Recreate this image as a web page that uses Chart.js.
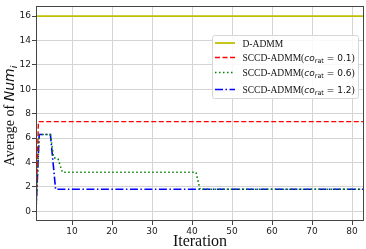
<!DOCTYPE html>
<html>
<head>
<meta charset="utf-8">
<script src="https://cdn.jsdelivr.net/npm/chart.js@4"></script>
<style>
  html, body { margin: 0; padding: 0; background: #fff; }
  #wrap { width: 366px; height: 249px; position: relative; }
</style>
</head>
<body>
<div id="wrap"><canvas id="myChart" width="366" height="249"></canvas></div>
<script>
// valores
const xTicks = [10, 20, 30, 40, 50, 60, 70, 80];
const yTicks = [0, 2, 4, 6, 8, 10, 12, 14, 16];

const dadmmX = [1, 83];
const dadmmY = [16, 16];
const co01X = [1, 1.6, 83];
const co01Y = [0, 7.35, 7.35];
const co06X = [1, 1.8, 4.6, 5.4, 6.5, 7.6, 41, 42, 83];
const co06Y = [0, 6.3, 6.3, 4.4, 4.3, 3.2, 3.2, 1.8, 1.8];
const co12X = [1, 1.8, 4.6, 5.9, 83];
const co12Y = [0, 6.3, 6.3, 1.8, 1.8];

const legendItems = [
  { label: 'D-ADMM', co: null, color: '#bfbf00', dash: [], width: 1.8 },
  { label: 'SCCD-ADMM(', co: '0.1', color: '#ff0000', dash: [5, 2.5], width: 1.4 },
  { label: 'SCCD-ADMM(', co: '0.6', color: '#008000', dash: [1.5, 2.5], width: 1.6 },
  { label: 'SCCD-ADMM(', co: '1.2', color: '#0000ff', dash: [8, 2.5, 1.5, 2.5], width: 1.6 }
];

function pts(xs, ys) {
  return xs.map((x, i) => ({ x: x, y: ys[i] }));
}

const serif = '"Liberation Serif", "Times New Roman", serif';
const sans = '"DejaVu Sans", sans-serif';

// moldura, legenda e titulos dos eixos
const extras = {
  id: 'extras',
  afterDraw(chart) {
    const ctx = chart.ctx;
    const a = chart.chartArea;
    ctx.save();
    ctx.strokeStyle = '#444';
    ctx.lineWidth = 1;
    ctx.strokeRect(Math.round(a.left) + 0.5, Math.round(a.top) + 0.5,
      Math.round(a.right - a.left) - 1, Math.round(a.bottom - a.top) - 1);

    // legenda
    const bx = 212.5, by = 35.5, bw = 146, bh = 63;
    ctx.fillStyle = 'rgba(255,255,255,0.85)';
    ctx.strokeStyle = '#d6d6d6';
    ctx.beginPath();
    ctx.roundRect(bx, by, bw, bh, 2);
    ctx.fill();
    ctx.stroke();
    const rows = [43, 57.5, 72.5, 89.5];
    legendItems.forEach((it, i) => {
      const y = rows[i];
      ctx.strokeStyle = it.color;
      ctx.lineWidth = it.width;
      ctx.setLineDash(it.dash);
      ctx.beginPath();
      ctx.moveTo(215, y);
      ctx.lineTo(235, y);
      ctx.stroke();
      ctx.setLineDash([]);
      ctx.fillStyle = '#111';
      ctx.textBaseline = 'alphabetic';
      ctx.textAlign = 'left';
      let x = 242.5;
      const base = y + 3.5;
      ctx.font = '9.5px ' + serif;
      ctx.fillText(it.label, x, base);
      x += ctx.measureText(it.label).width;
      if (it.co) {
        ctx.font = 'italic 9px ' + sans;
        ctx.fillText('co', x, base);
        x += ctx.measureText('co').width;
        ctx.font = '6.5px ' + sans;
        ctx.fillText('rat', x, base + 2);
        x += ctx.measureText('rat').width;
        ctx.font = '9px ' + sans;
        const s = ' = ' + it.co;
        ctx.fillText(s, x, base);
        x += ctx.measureText(s).width;
        ctx.font = '9.5px ' + serif;
        ctx.fillText(')', x, base);
      }
    });

    // titulo do eixo x
    ctx.fillStyle = '#111';
    ctx.font = '16px ' + serif;
    ctx.textAlign = 'center';
    ctx.fillText('Iteration', (a.left + a.right) / 2, 246);

    // titulo do eixo y
    ctx.translate(14, 116);
    ctx.rotate(-Math.PI / 2);
    ctx.textAlign = 'left';
    const p1 = 'Average of ';
    ctx.font = '14px ' + serif;
    const w1 = ctx.measureText(p1).width;
    ctx.font = 'italic 14px ' + sans;
    const w2 = ctx.measureText('Num').width;
    ctx.font = 'italic 9.5px ' + sans;
    const w3 = ctx.measureText('i').width;
    let x = -(w1 + w2 + w3) / 2;
    ctx.font = '14px ' + serif;
    ctx.fillText(p1, x, 0);
    x += w1;
    ctx.font = 'italic 14px ' + sans;
    ctx.fillText('Num', x, 0);
    x += w2;
    ctx.font = 'italic 9.5px ' + sans;
    ctx.fillText('i', x, 3);
    ctx.restore();
  }
};

const ctx = document.getElementById('myChart');

new Chart(ctx, {
  type: 'line',
  data: {
    datasets: [
      { label: 'D-ADMM', data: pts(dadmmX, dadmmY), borderColor: '#bfbf00', borderWidth: 1.8 },
      { label: 'SCCD-ADMM(co_rat = 0.1)', data: pts(co01X, co01Y), borderColor: '#ff0000', borderWidth: 1.4, borderDash: [5, 2.5] },
      { label: 'SCCD-ADMM(co_rat = 0.6)', data: pts(co06X, co06Y), borderColor: '#008000', borderWidth: 1.6, borderDash: [1.5, 2.5] },
      { label: 'SCCD-ADMM(co_rat = 1.2)', data: pts(co12X, co12Y), borderColor: '#0000ff', borderWidth: 1.6, borderDash: [8, 2.5, 1.5, 2.5] }
    ]
  },
  options: {
    responsive: false,
    animation: false,
    events: [],
    elements: {
      point: { radius: 0 },
      line: { tension: 0, fill: false }
    },
    layout: { padding: { top: 1, right: 2, left: 0, bottom: 0 } },
    plugins: {
      legend: { display: false },
      tooltip: { enabled: false }
    },
    scales: {
      x: {
        type: 'linear',
        min: 1,
        max: 83,
        afterBuildTicks: (s) => { s.ticks = xTicks.map(v => ({ value: v })); },
        afterFit: (s) => { s.height = 28; },
        grid: { color: '#d4d4d4', lineWidth: 1, tickLength: 4, tickColor: '#444' },
        border: { display: false },
        ticks: { color: '#222', font: { family: 'DejaVu Sans', size: 9 }, padding: 1, maxRotation: 0, autoSkip: false }
      },
      y: {
        type: 'linear',
        min: -0.8,
        max: 16.8,
        afterBuildTicks: (s) => { s.ticks = yTicks.map(v => ({ value: v })); },
        afterFit: (s) => { s.width = 36; },
        grid: { color: '#d4d4d4', lineWidth: 1, tickLength: 4, tickColor: '#444' },
        border: { display: false },
        ticks: { color: '#222', font: { family: 'DejaVu Sans', size: 9 }, padding: 1, autoSkip: false }
      }
    }
  },
  plugins: [extras]
});
</script>
</body>
</html>
